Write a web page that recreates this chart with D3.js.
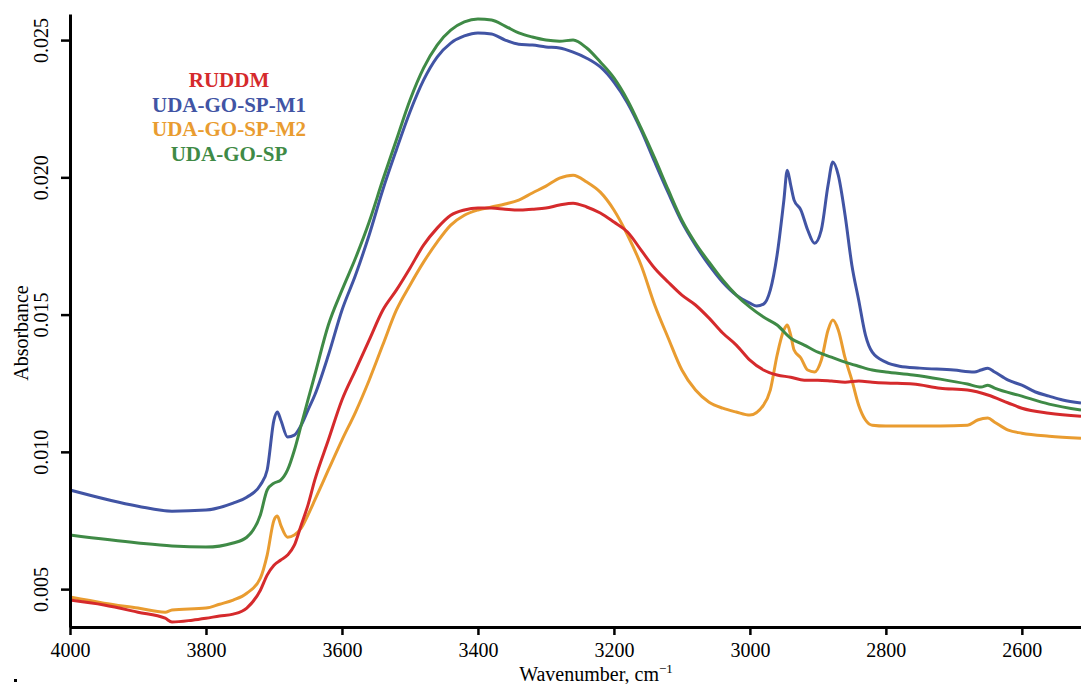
<!DOCTYPE html>
<html>
<head>
<meta charset="utf-8">
<script src="https://cdn.jsdelivr.net/npm/d3@7"></script>
<style>
	body { margin: 0; background: #fff; }
	svg { display: block; font-family: 'Liberation Serif', 'Times New Roman', serif; }
</style>
</head>
<body>
<div id="chart"></div>
<script>
// [wavenumber (cm-1), absorbance]
const ruddm = [
	[4000, 0.00460], [3950, 0.00442], [3900, 0.00416], [3860, 0.00394], [3850, 0.00380],
	[3820, 0.00387], [3800, 0.00394], [3780, 0.00402], [3760, 0.00409], [3740, 0.00431],
	[3720, 0.00496], [3710, 0.00551], [3700, 0.00587], [3690, 0.00606], [3680, 0.00624],
	[3670, 0.00660], [3660, 0.00733], [3650, 0.00806], [3640, 0.00897], [3620, 0.01043],
	[3600, 0.01189], [3580, 0.01298], [3560, 0.01407], [3540, 0.01516], [3520, 0.01589],
	[3500, 0.01669], [3480, 0.01753], [3460, 0.01815], [3440, 0.01862], [3420, 0.01881],
	[3400, 0.01888], [3380, 0.01888], [3360, 0.01884], [3340, 0.01881], [3320, 0.01884],
	[3300, 0.01888], [3280, 0.01899], [3260, 0.01906], [3240, 0.01892], [3220, 0.01870],
	[3200, 0.01837], [3180, 0.01801], [3160, 0.01735], [3140, 0.01669], [3120, 0.01618],
	[3100, 0.01571], [3080, 0.01535], [3060, 0.01487], [3040, 0.01433], [3020, 0.01389],
	[3000, 0.01334], [2980, 0.01298], [2960, 0.01280], [2940, 0.01272], [2920, 0.01261],
	[2900, 0.01261], [2880, 0.01258], [2860, 0.01254], [2840, 0.01258], [2820, 0.01254],
	[2800, 0.01251], [2760, 0.01247], [2720, 0.01232], [2680, 0.01225], [2650, 0.01207],
	[2620, 0.01178], [2600, 0.01159], [2560, 0.01141], [2513, 0.01130]
];

const udaGoSpM1 = [
	[4000, 0.00861], [3900, 0.00802], [3850, 0.00784], [3800, 0.00788], [3760, 0.00813],
	[3740, 0.00835], [3720, 0.00879], [3710, 0.00934], [3700, 0.01116], [3695, 0.01145],
	[3690, 0.01116], [3680, 0.01054], [3670, 0.01061], [3660, 0.01097], [3650, 0.01152],
	[3640, 0.01207], [3620, 0.01352], [3600, 0.01516], [3580, 0.01644], [3560, 0.01790],
	[3540, 0.01954], [3520, 0.02100], [3500, 0.02238], [3480, 0.02354], [3460, 0.02438],
	[3440, 0.02489], [3420, 0.02515], [3400, 0.02526], [3380, 0.02522], [3360, 0.02500],
	[3340, 0.02485], [3320, 0.02482], [3300, 0.02475], [3280, 0.02471], [3260, 0.02456],
	[3240, 0.02434], [3220, 0.02402], [3200, 0.02347], [3180, 0.02271], [3160, 0.02172],
	[3140, 0.02056], [3120, 0.01943], [3100, 0.01837], [3080, 0.01753], [3060, 0.01680],
	[3040, 0.01618], [3020, 0.01571], [3000, 0.01542], [2990, 0.01531], [2980, 0.01538],
	[2970, 0.01589], [2960, 0.01717], [2950, 0.01917], [2945, 0.02026], [2940, 0.01972],
	[2935, 0.01917], [2925, 0.01881], [2915, 0.01808], [2905, 0.01760], [2895, 0.01808],
	[2885, 0.01972], [2878, 0.02056], [2870, 0.02008], [2860, 0.01862], [2850, 0.01680],
	[2840, 0.01553], [2830, 0.01425], [2820, 0.01363], [2800, 0.01327], [2780, 0.01312],
	[2750, 0.01305], [2700, 0.01298], [2670, 0.01291], [2660, 0.01298], [2650, 0.01305],
	[2640, 0.01291], [2620, 0.01261], [2600, 0.01243], [2580, 0.01218], [2560, 0.01203],
	[2540, 0.01189], [2513, 0.01178]
];

const udaGoSpM2 = [
	[4000, 0.00471], [3950, 0.00449], [3900, 0.00431], [3860, 0.00416], [3850, 0.00424],
	[3800, 0.00431], [3780, 0.00445], [3760, 0.00460], [3740, 0.00485], [3720, 0.00540],
	[3710, 0.00624], [3700, 0.00751], [3695, 0.00766], [3690, 0.00733], [3680, 0.00689],
	[3670, 0.00697], [3660, 0.00722], [3650, 0.00770], [3640, 0.00824], [3620, 0.00934],
	[3600, 0.01043], [3580, 0.01145], [3560, 0.01261], [3540, 0.01389], [3520, 0.01516],
	[3500, 0.01607], [3480, 0.01691], [3460, 0.01764], [3440, 0.01826], [3420, 0.01862],
	[3400, 0.01881], [3380, 0.01892], [3360, 0.01903], [3340, 0.01917], [3320, 0.01943],
	[3300, 0.01968], [3280, 0.01997], [3260, 0.02008], [3240, 0.01983], [3220, 0.01946],
	[3200, 0.01881], [3180, 0.01790], [3160, 0.01680], [3140, 0.01535], [3120, 0.01414],
	[3100, 0.01298], [3080, 0.01225], [3060, 0.01181], [3040, 0.01159], [3020, 0.01145],
	[3000, 0.01134], [2980, 0.01170], [2970, 0.01225], [2960, 0.01352], [2950, 0.01444],
	[2945, 0.01462], [2940, 0.01425], [2935, 0.01371], [2925, 0.01342], [2915, 0.01298],
	[2905, 0.01291], [2895, 0.01334], [2885, 0.01444], [2878, 0.01480], [2870, 0.01444],
	[2860, 0.01342], [2850, 0.01261], [2840, 0.01170], [2830, 0.01116], [2820, 0.01097],
	[2800, 0.01094], [2760, 0.01094], [2720, 0.01094], [2680, 0.01097], [2665, 0.01116],
	[2650, 0.01123], [2640, 0.01108], [2620, 0.01079], [2600, 0.01068], [2560, 0.01057],
	[2513, 0.01050]
];

const udaGoSp = [
	[4000, 0.00697], [3900, 0.00668], [3850, 0.00657], [3800, 0.00653], [3760, 0.00668],
	[3740, 0.00689], [3720, 0.00770], [3710, 0.00861], [3700, 0.00886], [3690, 0.00897],
	[3680, 0.00934], [3670, 0.01006], [3660, 0.01097], [3650, 0.01189], [3640, 0.01280],
	[3620, 0.01462], [3600, 0.01589], [3580, 0.01706], [3560, 0.01837], [3540, 0.01990],
	[3520, 0.02136], [3500, 0.02281], [3480, 0.02398], [3460, 0.02482], [3440, 0.02536],
	[3420, 0.02566], [3400, 0.02577], [3380, 0.02573], [3360, 0.02551], [3340, 0.02526],
	[3320, 0.02511], [3300, 0.02500], [3280, 0.02496], [3260, 0.02500], [3240, 0.02471],
	[3220, 0.02420], [3200, 0.02362], [3180, 0.02281], [3160, 0.02179], [3140, 0.02070],
	[3120, 0.01954], [3100, 0.01844], [3080, 0.01760], [3060, 0.01691], [3040, 0.01626],
	[3020, 0.01571], [3000, 0.01527], [2980, 0.01491], [2960, 0.01462], [2940, 0.01414],
	[2920, 0.01389], [2900, 0.01363], [2880, 0.01345], [2860, 0.01327], [2840, 0.01312],
	[2820, 0.01298], [2800, 0.01291], [2760, 0.01280], [2720, 0.01265], [2680, 0.01247],
	[2660, 0.01236], [2650, 0.01243], [2640, 0.01232], [2600, 0.01203], [2560, 0.01174],
	[2513, 0.01152]
];

const seriesNames = ['RUDDM', 'UDA-GO-SP-M1', 'UDA-GO-SP-M2', 'UDA-GO-SP'];
const seriesData = [ruddm, udaGoSpM1, udaGoSpM2, udaGoSp];
const seriesColors = ['#d52a2c', '#4154a4', '#e99c30', '#3f8a46'];
// draw order, last on top
const drawOrder = [1, 2, 3, 0];

const xTicks = [4000, 3800, 3600, 3400, 3200, 3000, 2800, 2600];
const yTicks = [0.005, 0.010, 0.015, 0.020, 0.025];

const width = 1081;
const height = 684;

const svg = d3.select('#chart').append('svg')
	.attr('width', width)
	.attr('height', height);

const x = d3.scaleLinear().domain([4000, 2513]).range([70, 1081]);
const y = d3.scaleLinear().domain([0.00362, 0.02595]).range([627, 14]);

const line = d3.line()
	.x(d => x(d[0]))
	.y(d => y(d[1]))
	.curve(d3.curveMonotoneX);

svg.append('g')
	.selectAll('path')
	.data(drawOrder)
	.join('path')
	.attr('fill', 'none')
	.attr('stroke', i => seriesColors[i])
	.attr('stroke-width', 3)
	.attr('stroke-linejoin', 'round')
	.attr('d', i => line(seriesData[i]));

// axes
const xAxis = svg.append('g')
	.attr('transform', 'translate(0,627)')
	.call(d3.axisBottom(x).tickValues(xTicks).tickFormat(d3.format('d')).tickSize(8).tickPadding(8).tickSizeOuter(0));

const yAxis = svg.append('g')
	.attr('transform', 'translate(70,0)')
	.call(d3.axisLeft(y).tickValues(yTicks).tickFormat(d3.format('.3f')).tickSize(9).tickSizeOuter(0));

[xAxis, yAxis].forEach(g => {
	g.select('.domain').attr('stroke', '#000').attr('stroke-width', 3);
	g.selectAll('.tick line').attr('stroke', '#000').attr('stroke-width', 2.5);
	g.selectAll('text')
		.attr('fill', '#000')
		.style('font-family', "'Liberation Serif', serif")
		.style('font-size', '20px');
});

yAxis.selectAll('.tick text')
	.attr('x', null)
	.attr('dy', null)
	.attr('text-anchor', 'middle')
	.attr('transform', 'translate(-22,0) rotate(-90)');

// axis titles
const xTitle = svg.append('text')
	.attr('x', 596)
	.attr('y', 681)
	.attr('text-anchor', 'middle')
	.style('font-size', '20px')
	.text('Wavenumber, cm');
xTitle.append('tspan')
	.attr('dy', -8)
	.style('font-size', '13px')
	.text('\u22121');

svg.append('text')
	.attr('transform', 'translate(28,333) rotate(-90)')
	.attr('text-anchor', 'middle')
	.style('font-size', '20px')
	.text('Absorbance');

// legend
svg.append('g')
	.selectAll('text')
	.data(seriesNames)
	.join('text')
	.attr('x', 229)
	.attr('y', (d, i) => 87 + i * 24.5)
	.attr('text-anchor', 'middle')
	.attr('fill', (d, i) => seriesColors[i])
	.style('font-size', '21px')
	.style('font-weight', 'bold')
	.text(d => d);

// stray mark bottom left
svg.append('rect')
	.attr('x', 14)
	.attr('y', 679)
	.attr('width', 3)
	.attr('height', 3)
	.attr('fill', '#000');
</script>
</body>
</html>
